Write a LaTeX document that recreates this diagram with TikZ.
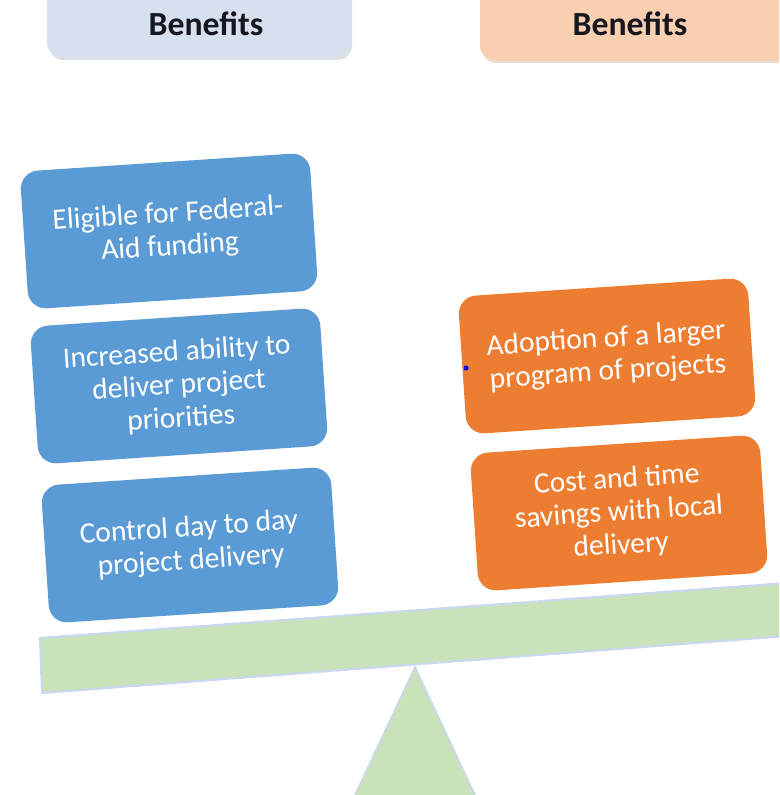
\documentclass[tikz,border=0pt]{standalone}
\usepackage{fontspec}
\setmainfont{Carlito}
\definecolor{boxblue}{HTML}{5B9BD5}
\definecolor{boxorange}{HTML}{ED7D31}
\definecolor{hdblue}{HTML}{D6E0EF}
\definecolor{hdorange}{HTML}{F8CFB1}
\definecolor{beamgreen}{HTML}{CAE2BA}
\definecolor{edgeblue}{HTML}{C9D8EE}
\definecolor{hdtext}{HTML}{16161F}
\begin{document}
\begin{tikzpicture}[x=0.025cm,y=-0.025cm,
    benefit/.style={rounded corners=0.45cm,minimum width=7.25cm,minimum height=3.45cm,
      align=center,text=white,rotate=3.8,font=\fontsize{21}{23.5}\selectfont},
    header/.style={font=\fontsize{24}{28}\selectfont\bfseries,text=hdtext}]
  \useasboundingbox (0,0) rectangle (779,795);
  \clip (0,0) rectangle (779,795);
  % header boxes
  \fill[hdblue!80!gray!60,rounded corners=10] (49,-20) rectangle (352,60);
  \fill[hdblue,rounded corners=10] (47,-20) rectangle (350,57);
  \node[header] (hdleft) at (206,24) {Benefits};
  \fill[hdorange!80!gray!60,rounded corners=10] (482,-20) rectangle (800,63);
  \fill[hdorange,rounded corners=10] (480,-20) rectangle (800,60);
  \node[header] (hdright) at (630,24) {Benefits};
  % the scale
  \draw[edgeblue,fill=beamgreen,line width=1.2pt] (415,667) -- (482,810) -- (348,810) -- cycle;
  \draw[edgeblue,fill=beamgreen,line width=1.5pt] (40,638) -- (800,582) -- (800,635) -- (42,693) -- cycle;
  % left side
  \node[benefit,fill=boxblue] (elig) at (169,231) {Eligible for Federal-\\Aid funding};
  \node[benefit,fill=boxblue] (ability) at (179,386) {Increased ability to\\deliver project\\priorities};
  \node[benefit,fill=boxblue] (control) at (190,545) {Control day to day\\project delivery};
  % right side
  \node[benefit,fill=boxorange] (adopt) at (607,356) {Adoption of a larger\\program of projects};
  \node[benefit,fill=boxorange] (savings) at (619,513) {Cost and time\\savings with local\\delivery};
  \fill[blue] (466,368) circle (2.5);
\end{tikzpicture}
\end{document}
